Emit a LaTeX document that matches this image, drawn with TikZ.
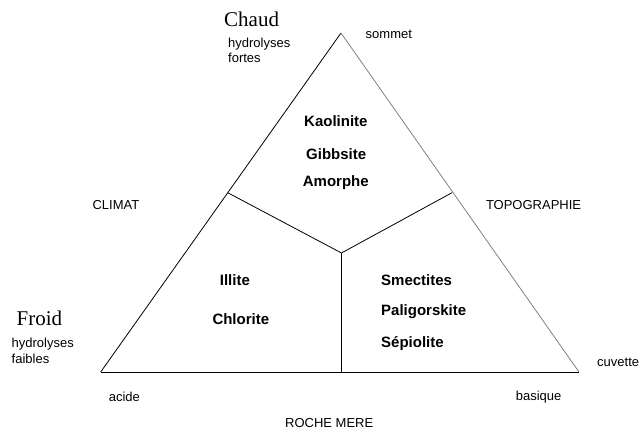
\documentclass[tikz,border=0pt]{standalone}
\usepackage{fontspec}
\setmainfont{Liberation Serif}
\newfontfamily\labelfont{Liberation Sans}

\begin{document}
\begin{tikzpicture}[x=1pt,y=1pt,
  edge/.style={thick},
  lbl/.style={inner sep=0pt,font=\labelfont\fontsize{13}{15.6}\selectfont},
  mineral/.style={inner sep=0pt,font=\labelfont\bfseries\fontsize{15}{18}\selectfont},
  pole/.style={inner sep=0pt,font=\fontsize{21}{24}\selectfont}]

\useasboundingbox (0,0) rectangle (643,433);

% triangle corners
\coordinate (sommet) at (341,400);
\coordinate (acide) at (100.7,61);
\coordinate (basique) at (579,61);

% division points
\coordinate (climat div) at (227.7,240.3);
\coordinate (topo div) at (452,240.3);
\coordinate (centre) at (341.5,180);
\coordinate (base div) at (341.5,61);

\draw[edge] (acide) -- (sommet);
\draw[edge,gray] (sommet) -- (basique);
\draw[edge] (basique) -- (acide);

\draw[edge] (climat div) -- (centre);
\draw[edge] (topo div) -- (centre);
\draw[edge] (centre) -- (base div);

% Chaud node
\node[pole,anchor=west] (chaud) at (224,414) {Chaud};
\node[lbl,anchor=west,align=left] (fortes) at (228,382.5) {hydrolyses\\fortes};
\node[lbl,anchor=west] (sommet label) at (365.5,399) {sommet};

% Froid node
\node[pole,anchor=west] (froid) at (16.4,115) {Froid};
\node[lbl,anchor=west,align=left] (faibles) at (11.5,82) {hydrolyses\\faibles};
\node[lbl,anchor=west] (cuvette) at (597,71) {cuvette};

% axis labels
\node[lbl,anchor=west] (climat) at (92.4,228) {CLIMAT};
\node[lbl,anchor=west] (topographie) at (485.8,228) {TOPOGRAPHIE};
\node[lbl,anchor=west] (acide label) at (108.6,36) {acide};
\node[lbl,anchor=west] (basique label) at (515.6,36) {basique};
\node[lbl,anchor=west] (roche) at (285,10) {ROCHE MERE};

% minerals nodes
\node[mineral,anchor=west] (kaolinite) at (304,312.3) {Kaolinite};
\node[mineral,anchor=west] (gibbsite) at (306,279) {Gibbsite};
\node[mineral,anchor=west] (amorphe) at (302.7,250.8) {Amorphe};

\node[mineral,anchor=west] (illite) at (219.7,153) {Illite};
\node[mineral,anchor=west] (chlorite) at (212.3,113.7) {Chlorite};

\node[mineral,anchor=west] (smectites) at (381,153) {Smectites};
\node[mineral,anchor=west] (paligorskite) at (381,121.3) {Paligorskite};
\node[mineral,anchor=west] (sepiolite) at (381,89.7) {Sépiolite};

\end{tikzpicture}
\end{document}
